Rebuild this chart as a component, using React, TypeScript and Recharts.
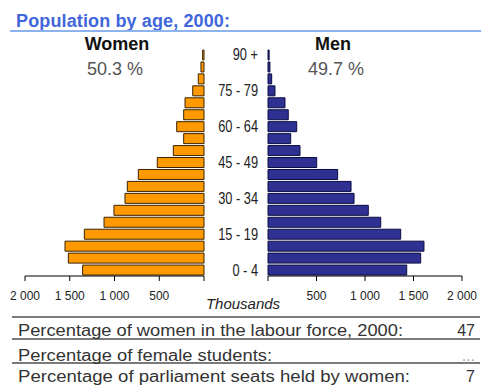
import React from 'react';
import { BarChart, Bar, XAxis, YAxis } from 'recharts';

// age groups, youngest first (drawn bottom-up)
const ageGroups = [
  '0 - 4', '5 - 9', '10 - 14', '15 - 19', '20 - 24', '25 - 29', '30 - 34',
  '35 - 39', '40 - 44', '45 - 49', '50 - 54', '55 - 59', '60 - 64', '65 - 69',
  '70 - 74', '75 - 79', '80 - 84', '85 - 89', '90 +',
];
const labelledAges = ['0 - 4', '15 - 19', '30 - 34', '45 - 49', '60 - 64', '75 - 79', '90 +'];

// population in thousands
const women = [1356, 1516, 1553, 1337, 1117, 1006, 883, 857, 734, 522, 343, 227, 305, 227, 212, 126, 64, 34, 15];
const men = [1430, 1574, 1608, 1368, 1162, 1034, 887, 856, 718, 502, 330, 234, 296, 209, 175, 72, 38, 20, 12];

const axisTicks = [0, 250, 500, 750, 1000, 1250, 1500, 1750, 2000];
const labelledTicks = [500, 1000, 1500, 2000];

const womenShare = '50.3 %';
const menShare = '49.7 %';

const statLabels = [
  'Percentage of women in the labour force, 2000:',
  'Percentage of female students:',
  'Percentage of parliament seats held by women:',
];
const statValues = ['47', '...', '7'];

const W = 481;
const H = 385;
const FONT = 'Arial, "Liberation Sans", sans-serif';

const womenData = ageGroups.map((age, i) => ({ age, value: women[i] }));
const menData = ageGroups.map((age, i) => ({ age, value: men[i] }));

const fmt = (v: number) => (v >= 1000 ? `${Math.floor(v / 1000)} ${String(v % 1000).padStart(3, '0')}` : String(v));

const ValueTick = (props: any) => {
  const { x, y, payload } = props;
  if (!labelledTicks.includes(payload.value)) return null;
  return (
    <text x={x} y={y + 17} textAnchor="middle" fontSize={12} fontFamily={FONT} fill="#222">
      {fmt(payload.value)}
    </text>
  );
};

// condensed age labels on the inner side of the men's chart
const AgeTick = (props: any) => {
  const { x, y, payload } = props;
  if (!labelledAges.includes(payload.value)) return null;
  return (
    <g transform={`translate(${x},${y}) scale(0.8,1)`}>
      <text x={0} y={0} dy={5.5} textAnchor="end" fontSize={16} fontFamily={FONT} fill="#222">
        {payload.value}
      </text>
    </g>
  );
};

const layer: React.CSSProperties = { position: 'absolute', left: 0, top: 0 };
const rowY = [336, 361, 382];
const rowLen = [385, 254, 392];

export default function App() {
  return (
    <div style={{ position: 'absolute', left: 0, top: 0, width: W, height: H, background: '#fff', fontFamily: FONT }}>
      <div style={layer}>
        <BarChart width={W} height={H} data={womenData} layout="vertical"
          margin={{ top: 49, right: 277, bottom: 79, left: 25 }}>
          <XAxis type="number" domain={[0, 2000]} ticks={axisTicks} reversed height={30}
            axisLine={{ stroke: '#000' }} tickLine={{ stroke: '#000' }} tickSize={5} tick={<ValueTick />} />
          <YAxis type="category" dataKey="age" reversed hide />
          <Bar dataKey="value" fill="#ff9900" stroke="#3a2200" strokeWidth={1} barSize={10} isAnimationActive={false} />
        </BarChart>
      </div>
      <div style={layer}>
        <BarChart width={W} height={H} data={menData} layout="vertical"
          margin={{ top: 49, right: 19, bottom: 79, left: 208 }}>
          <XAxis type="number" domain={[0, 2000]} ticks={axisTicks} height={30}
            axisLine={{ stroke: '#000' }} tickLine={{ stroke: '#000' }} tickSize={5} tick={<ValueTick />} />
          <YAxis type="category" dataKey="age" reversed width={60} axisLine={false} tickLine={false}
            tickSize={0} tickMargin={10} interval={0} tick={<AgeTick />} />
          <Bar dataKey="value" fill="#2e3192" stroke="#0c0c40" strokeWidth={1} barSize={10} isAnimationActive={false} />
        </BarChart>
      </div>
      <svg width={W} height={H} style={{ ...layer, pointerEvents: 'none' }} fontFamily={FONT}>
        <text x={16} y={27} fontSize={18} fontWeight="bold" fill="#3f66dd" textLength={214}>Population by age, 2000:</text>
        <line x1={10} x2={481} y1={31} y2={31} stroke="#8db3ee" strokeWidth={2} />

        <text x={117} y={50} fontSize={18} fontWeight="bold" textAnchor="middle" fill="#111">Women</text>
        <text x={115} y={75} fontSize={18} textAnchor="middle" fill="#555">{womenShare}</text>
        <text x={333} y={50} fontSize={18} fontWeight="bold" textAnchor="middle" fill="#111">Men</text>
        <text x={336} y={75} fontSize={18} textAnchor="middle" fill="#555">{menShare}</text>

        <text x={243} y={309} fontSize={15} fontStyle="italic" textAnchor="middle" fill="#222">Thousands</text>

        {[317, 339, 363].map((y) => (
          <line key={y} x1={12} x2={480} y1={y} y2={y} stroke="#7a7a7a" strokeWidth={2} />
        ))}
        {statLabels.map((s, i) => (
          <text key={s} x={18} y={rowY[i]} fontSize={16} fill="#333"
            textLength={rowLen[i]} lengthAdjust="spacingAndGlyphs">{s}</text>
        ))}
        {statValues.map((v, i) => (
          <text key={i} x={475} y={rowY[i]} fontSize={16} textAnchor="end"
            fill={v === '...' ? '#aaa' : '#333'}>{v}</text>
        ))}
      </svg>
    </div>
  );
}
